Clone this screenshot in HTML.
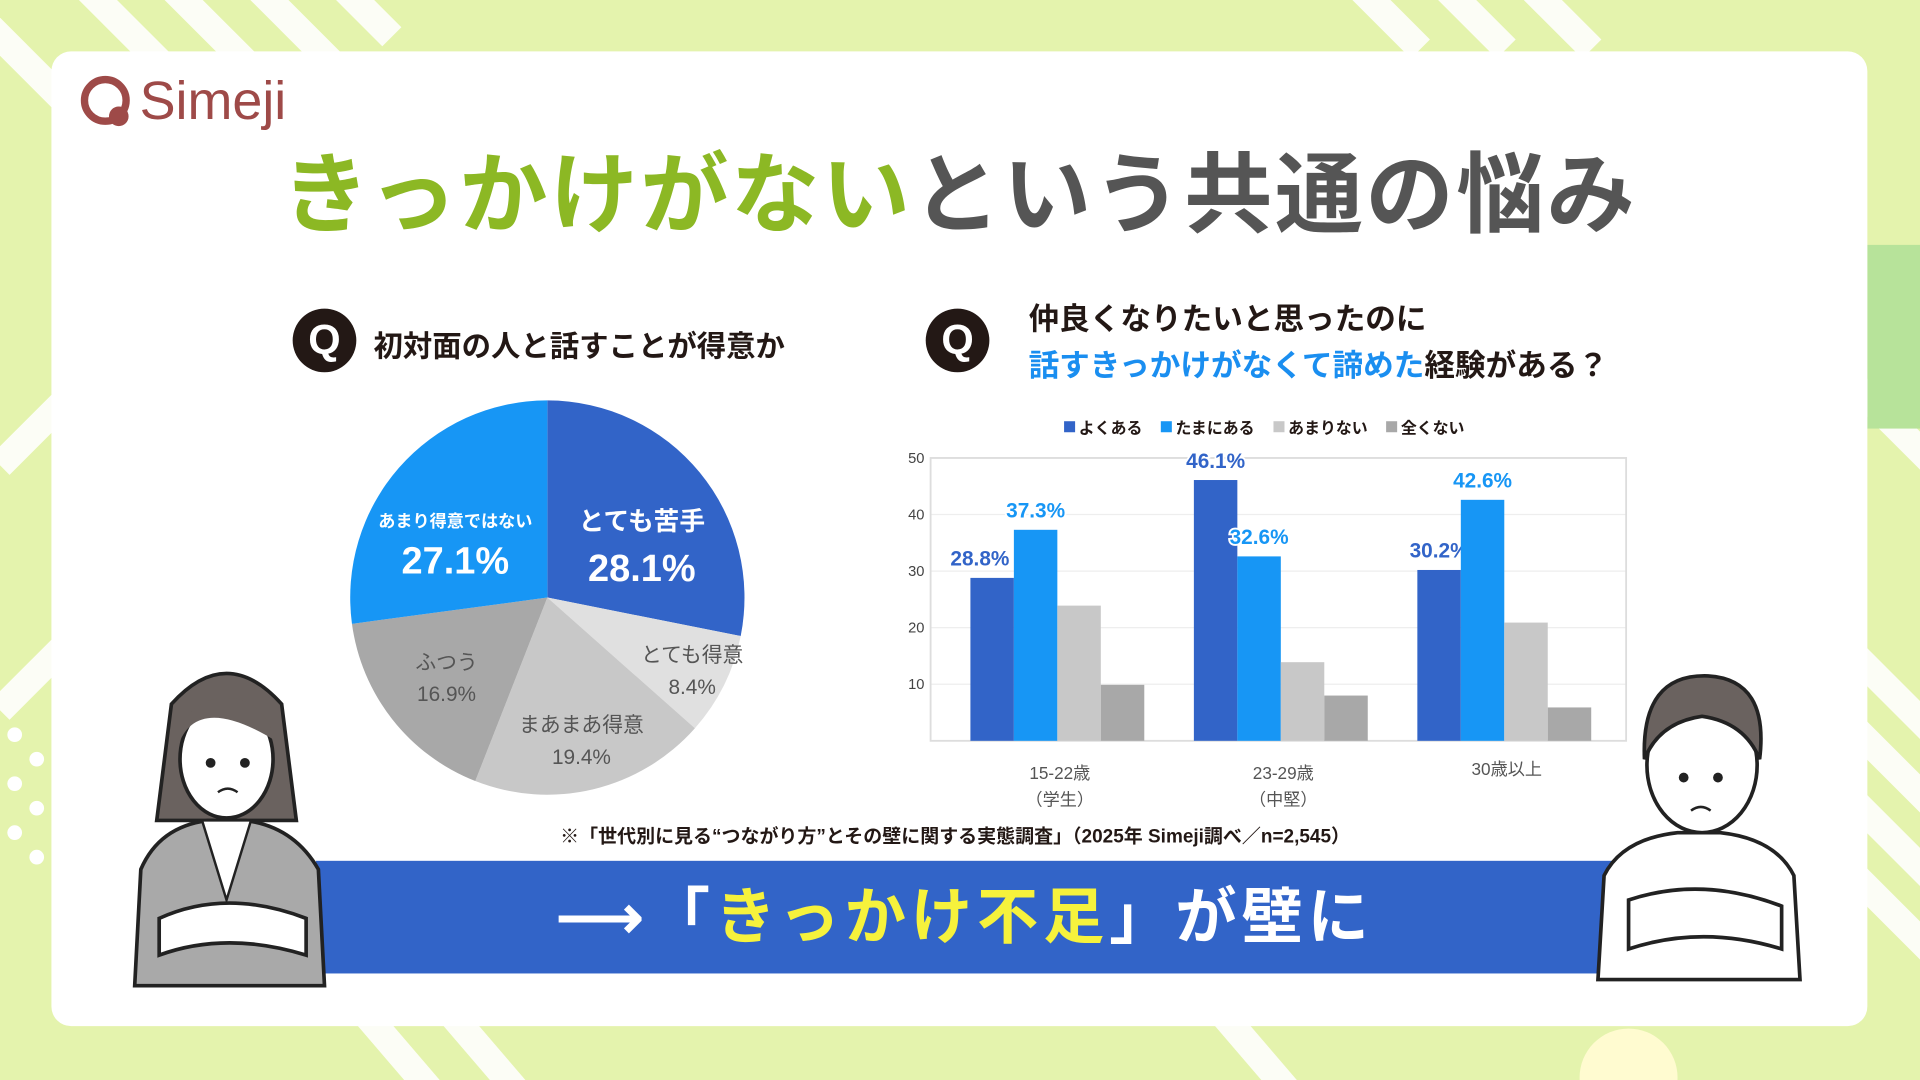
<!DOCTYPE html>
<html><head><meta charset="utf-8">
<style>
html,body{margin:0;padding:0;width:1920px;height:1080px;overflow:hidden;background:#e6f3b0;}
#wrap{position:absolute;left:0;top:0;width:1568px;height:882px;transform:scale(1.22449);transform-origin:0 0;font-family:"Liberation Sans","Noto Sans CJK JP",sans-serif;}
.abs{position:absolute;}
</style></head><body>
<div id="wrap">
<svg class="abs" style="left:0;top:0" width="1568" height="882">
  <rect width="1568" height="882" fill="#e4f3ad"/>
  <g stroke="#ffffff" stroke-width="22" opacity="0.9">
    <line x1="-40" y1="-10" x2="120" y2="150"/><line x1="40" y1="-40" x2="160" y2="80"/><line x1="110" y1="-40" x2="220" y2="70"/>
    <line x1="180" y1="-40" x2="270" y2="50"/><line x1="250" y1="-40" x2="320" y2="30"/>
    <line x1="1100" y1="-20" x2="1160" y2="40"/><line x1="1170" y1="-20" x2="1230" y2="40"/><line x1="1240" y1="-20" x2="1300" y2="40"/>
    <line x1="1500" y1="300" x2="1600" y2="400"/><line x1="1500" y1="520" x2="1600" y2="620"/><line x1="1500" y1="580" x2="1600" y2="680"/>
    <line x1="1500" y1="640" x2="1600" y2="740"/><line x1="1500" y1="700" x2="1600" y2="800"/>
    <line x1="300" y1="830" x2="360" y2="900"/><line x1="370" y1="830" x2="430" y2="900"/><line x1="1000" y1="830" x2="1060" y2="900"/>
    <line x1="0" y1="380" x2="60" y2="320"/><line x1="0" y1="580" x2="60" y2="520"/>
  </g>
  <g fill="#ffffff">
    <circle cx="12" cy="600" r="6"/><circle cx="30" cy="620" r="6"/><circle cx="12" cy="640" r="6"/><circle cx="30" cy="660" r="6"/><circle cx="12" cy="680" r="6"/><circle cx="30" cy="700" r="6"/>
  </g>
  <rect x="1525" y="200" width="43" height="150" fill="#b7e39a"/>
  <circle cx="1330" cy="880" r="40" fill="#fffbd0"/>
</svg>
<div class="abs" style="left:42px;top:42px;width:1483px;height:796px;background:#fff;border-radius:16px;"></div>

<div class="abs" style="left:64px;top:58px;display:flex;align-items:center;">
  <svg width="46" height="50"><circle cx="22" cy="24" r="17" fill="none" stroke="#9e4a48" stroke-width="6"/><circle cx="33" cy="37" r="8" fill="#9e4a48"/></svg>
  <span style="font-size:44px;color:#9e4a48;font-weight:500;margin-left:4px;">Simeji</span>
</div>

<div class="abs" style="left:230px;top:100px;font-size:72px;font-weight:700;white-space:nowrap;letter-spacing:2px;"><span style="color:#8cb824">きっかけがない</span><span style="color:#555">という共通の悩み</span></div>

<div class="abs" style="left:239px;top:252px;width:52px;height:52px;border-radius:50%;background:#231815;color:#fff;font-size:34px;font-weight:700;text-align:center;line-height:52px;">Q</div>
<div class="abs" style="left:305px;top:263px;font-size:24px;font-weight:700;color:#231815;white-space:nowrap">初対面の人と話すことが得意か</div>
<div class="abs" style="left:756px;top:252px;width:52px;height:52px;border-radius:50%;background:#231815;color:#fff;font-size:34px;font-weight:700;text-align:center;line-height:52px;">Q</div>
<div class="abs" style="left:840px;top:242px;font-size:25px;font-weight:700;color:#231815;white-space:nowrap;line-height:38px">仲良くなりたいと思ったのに<br><span style="color:#1a8ef0">話すきっかけがなくて諦めた</span>経験がある？</div>

<svg id="pie" class="abs" style="left:0;top:0" width="1568" height="882"></svg>
<svg id="bar" class="abs" style="left:0;top:0" width="1568" height="882"></svg>

<div class="abs" style="left:300px;top:671px;width:960px;text-align:center;font-size:15.5px;font-weight:700;color:#231815;white-space:nowrap">※「世代別に見る“つながり方”とその壁に関する実態調査」（2025年 Simeji調べ／n=2,545）</div>

<div class="abs" style="left:258px;top:703px;width:1060px;height:92px;background:#3264c8;"></div>
<div class="abs" style="left:258px;top:703px;width:1060px;height:92px;line-height:92px;text-align:center;font-size:50px;font-weight:700;color:#fff;white-space:nowrap;letter-spacing:4px">⟶「<span style="color:#f6f23c">きっかけ不足</span>」が壁に</div>

<svg class="abs" style="left:100px;top:535px" width="175" height="275">
  <path d="M40 40 Q85 -10 130 40 L142 135 L28 135 Z" fill="#6a625f" stroke="#222" stroke-width="3"/>
  <path d="M10 270 L15 175 Q30 140 70 135 L100 135 Q140 140 160 175 L165 270 Z" fill="#a9a9a9" stroke="#222" stroke-width="3"/>
  <path d="M65 135 L85 200 L105 135 Z" fill="#fff" stroke="#222" stroke-width="2"/>
  <ellipse cx="85" cy="85" rx="38" ry="48" fill="#fff" stroke="#222" stroke-width="3"/>
  <path d="M45 75 Q60 30 125 70 Q115 35 85 35 Q50 35 45 75Z" fill="#6a625f"/>
  <circle cx="72" cy="88" r="4" fill="#222"/><circle cx="100" cy="88" r="4" fill="#222"/>
  <path d="M78 112 Q86 106 94 112" fill="none" stroke="#222" stroke-width="2"/>
  <path d="M30 215 Q85 190 150 215 L150 245 Q85 225 30 245Z" fill="#fff" stroke="#222" stroke-width="3"/>
</svg>
<svg class="abs" style="left:1295px;top:540px" width="185" height="265">
  <path d="M10 260 L15 175 Q30 145 75 140 L110 140 Q155 145 170 175 L175 260 Z" fill="#fff" stroke="#222" stroke-width="3"/>
  <ellipse cx="95" cy="85" rx="45" ry="55" fill="#fff" stroke="#222" stroke-width="3"/>
  <path d="M48 80 Q45 10 100 12 Q150 15 142 80 Q130 50 95 45 Q60 50 48 80Z" fill="#6a625f" stroke="#222" stroke-width="3"/>
  <circle cx="80" cy="95" r="4" fill="#222"/><circle cx="108" cy="95" r="4" fill="#222"/>
  <path d="M86 122 Q94 116 102 122" fill="none" stroke="#222" stroke-width="2"/>
  <path d="M35 195 Q95 175 160 200 L160 235 Q95 215 35 235Z" fill="#fff" stroke="#222" stroke-width="3"/>
</svg>
</div>

<script>
const NS='http://www.w3.org/2000/svg';
function mk(parent,tag,attrs,text){const e=document.createElementNS(NS,tag);for(const k in attrs)e.setAttribute(k,attrs[k]);if(text!==undefined)e.textContent=text;parent.appendChild(e);return e;}

// ---- Pie data ----
const pieLabels=['とても苦手','とても得意','まあまあ得意','ふつう','あまり得意ではない'];
const pieValues=[28.1,8.4,19.4,16.9,27.1];
const pieColors=['#3264c8','#e0e0e0','#c8c8c8','#a8a8a8','#1796f5'];

// ---- Bar data ----
const barCategories=['15-22歳|（学生）','23-29歳|（中堅）','30歳以上'];
const barSeriesNames=['よくある','たまにある','あまりない','全くない'];
const seriesOften=[28.8,46.1,30.2];
const seriesSometimes=[37.3,32.6,42.6];
const seriesRarely=[23.9,13.9,20.9];
const seriesNever=[9.9,8.0,5.9];
const yTicks=[10,20,30,40,50];
const barColors=['#3264c8','#1796f5','#c8c8c8','#a8a8a8'];

// Pie
(function(){
 const svg=document.getElementById('pie');const cx=447,cy=488,r=161;
 const total=pieValues.reduce((a,b)=>a+b,0);let a0=-Math.PI/2;
 const lblR=[0.62,0.82,0.74,0.65,0.62];
 pieValues.forEach((v,i)=>{
  const a1=a0+v/total*2*Math.PI;
  const x0=cx+r*Math.cos(a0),y0=cy+r*Math.sin(a0),x1=cx+r*Math.cos(a1),y1=cy+r*Math.sin(a1);
  const p=mk(svg,'path',{d:`M${cx},${cy}L${x0},${y0}A${r},${r} 0 ${a1-a0>Math.PI?1:0} 1 ${x1},${y1}Z`,fill:pieColors[i]});
  
  
  const am=(a0+a1)/2;const rr=r*lblR[i];const lx=cx+rr*Math.cos(am),ly=cy+rr*Math.sin(am);
  const big=(i===0||i===4);const col=big?'#fff':'#555';
  const t1=mk(svg,'text',{x:lx,y:big?ly+8:ly-6,'text-anchor':'middle','font-size':big?(i===4?14:21):17,'font-weight':big?700:400,fill:col},pieLabels[i]);
  
  
  const t2=mk(svg,'text',{x:lx,y:big?ly+(i===4?46:50):ly+20,'text-anchor':'middle','font-size':big?31:17,'font-weight':big?700:400,fill:col},v.toFixed(1)+'%');
  
  
  a0=a1;
 });
})();

// Bar
(function(){
 const svg=document.getElementById('bar');
 const L=760,R=1328,T=374,B=605,ymax=50;
 const y=v=>B-(v/ymax)*(B-T);
 const bw=35.5,band=182.5,firstCenter=L+103.5;
 const all=[seriesOften,seriesSometimes,seriesRarely,seriesNever];
 yTicks.forEach(t=>{
  const g=mk(svg,'line',{x1:L,x2:R,y1:y(t),y2:y(t),stroke:'#eee','stroke-width':1});
  
  
  const tl=mk(svg,'text',{x:L-5,y:y(t)+4,'text-anchor':'end','font-size':12,fill:'#444'},t);
  
  
 });
 const fr=mk(svg,'rect',{x:L,y:T,width:R-L,height:B-T,fill:'none',stroke:'#ddd','stroke-width':1.5});
 
 
 barCategories.forEach((c,g)=>{
  const cxg=firstCenter+band*g;
  const gx=cxg-2*bw;
  all.forEach((arr,s)=>{
   const bx=gx+s*bw;
   const r=mk(svg,'rect',{x:bx,y:y(arr[g]),width:bw,height:B-y(arr[g]),fill:barColors[s]});
   
   
   if(s<2){
    const lt=mk(svg,'text',{x:bx+bw/2-(s===0&&g===0?10:0),y:y(arr[g])-10,'text-anchor':'middle','font-size':17,'font-weight':700,fill:barColors[s],stroke:'#fff','stroke-width':3,'paint-order':'stroke'},arr[g].toFixed(1)+'%');
    
    
   }
  });
  c.split('|').forEach((ln,k)=>{
   const xt=mk(svg,'text',{x:cxg+2,y:(k===0&&c.indexOf('|')<0?633:636)+k*22,'text-anchor':'middle','font-size':14,fill:'#555'},ln);
   
   
  });
 });
 let lx=869;
 barSeriesNames.forEach((n,s)=>{
  const sw=mk(svg,'rect',{x:lx,y:344,width:9,height:9,fill:barColors[s]});
  
  
  const lt=mk(svg,'text',{x:lx+12,y:354,'font-size':13,'font-weight':700,fill:'#231815'},n);
  
  
  lx+=12+n.length*13+15;
 });
})();
</script>
</body></html>
